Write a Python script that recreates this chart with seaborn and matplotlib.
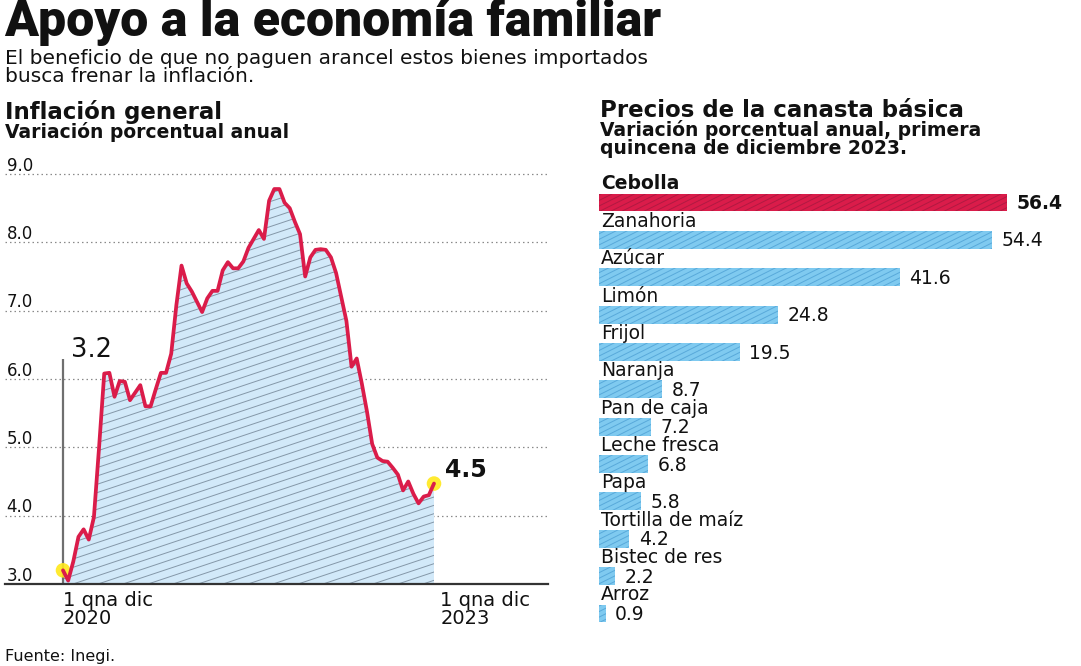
import numpy as np
import pandas as pd
import matplotlib
matplotlib.use("Agg")
import matplotlib.pyplot as plt
import matplotlib.hatch as mhatch
import matplotlib.transforms as mtransforms
from matplotlib.path import Path
import seaborn as sns

# ---------------- data ----------------
inflacion = [3.20, 3.05, 3.33, 3.69, 3.80, 3.65, 3.98, 5.00, 6.08, 6.09,
             5.74, 5.97, 5.96, 5.69, 5.80, 5.91, 5.60, 5.60, 5.85, 6.09,
             6.09, 6.37, 7.08, 7.66, 7.40, 7.28, 7.13, 6.98, 7.18, 7.29,
             7.29, 7.59, 7.71, 7.62, 7.62, 7.72, 7.92, 8.05, 8.18, 8.05,
             8.61, 8.78, 8.78, 8.58, 8.50, 8.30, 8.12, 7.50, 7.78, 7.89,
             7.90, 7.89, 7.78, 7.55, 7.20, 6.85, 6.18, 6.30, 5.93, 5.52,
             5.05, 4.85, 4.80, 4.79, 4.70, 4.60, 4.37, 4.50, 4.32, 4.18,
             4.28, 4.30, 4.47]
yticks = [3.0, 4.0, 5.0, 6.0, 7.0, 8.0, 9.0]
xlabel_ini = ["1 qna dic", "2020"]
xlabel_fin = ["1 qna dic", "2023"]

productos = ["Cebolla", "Zanahoria", "Azúcar", "Limón", "Frijol", "Naranja",
             "Pan de caja", "Leche fresca", "Papa", "Tortilla de maíz",
             "Bistec de res", "Arroz"]
variacion = [56.4, 54.4, 41.6, 24.8, 19.5, 8.7, 7.2, 6.8, 5.8, 4.2, 2.2, 0.9]

# ---------------- custom shallow hatches ----------------
class _Slant(mhatch.HatchPatternBase):
    char = "/"
    slope = 1.0 / 3.0
    per = 3

    def __init__(self, hatch, density):
        self.n = int(hatch.count(self.char) * self.per)
        if self.n:
            self.k = int(round(self.slope * self.n))
            self.num_lines = self.n + self.k + 1
        else:
            self.k = 0
            self.num_lines = 0
        self.num_vertices = self.num_lines * 2

    def set_vertices_and_codes(self, vertices, codes):
        cs = np.arange(-self.k, self.n + 1) / self.n
        vertices[0::2, 0] = 0.0
        vertices[0::2, 1] = cs
        vertices[1::2, 0] = 1.0
        vertices[1::2, 1] = cs + self.slope
        codes[0::2] = Path.MOVETO
        codes[1::2] = Path.LINETO


class _SlantBar(_Slant):
    char = "x"
    slope = 0.5
    per = 2


mhatch._hatch_types = [_Slant, _SlantBar]

# ---------------- style ----------------
sns.set_theme(style="white")
plt.rcParams["font.family"] = ["DejaVu Sans"]
plt.rcParams["hatch.linewidth"] = 0.7

RED = "#DA1C4A"
BLUE = "#7FCAF0"
FILL = "#D2E9F9"
INK = "#111111"

W, H = 1081, 666
fig = plt.figure(figsize=(W / 100, H / 100), dpi=100, facecolor="white")


def fx(px):
    return px / W


def fy(py):
    return 1 - py / H


# ---------------- texts ----------------
fig.text(fx(4), fy(36), "Apoyo a la economía familiar", family=["Roboto", "DejaVu Sans"],
         weight="black", fontsize=36, color=INK, va="baseline", ha="left")
fig.text(fx(5), fy(64), "El beneficio de que no paguen arancel estos bienes importados",
         fontsize=14.5, color=INK, va="baseline")
fig.text(fx(5), fy(81.5), "busca frenar la inflación.", fontsize=14.5, color=INK,
         va="baseline")

fig.text(fx(5), fy(119), "Inflación general", fontsize=16.5, weight="bold", color=INK,
         va="baseline")
fig.text(fx(5), fy(138), "Variación porcentual anual", fontsize=13.5, weight="bold",
         color=INK, va="baseline")

fig.text(fx(600), fy(117), "Precios de la canasta básica", fontsize=16.5, weight="bold",
         color=INK, va="baseline")
fig.text(fx(600), fy(136), "Variación porcentual anual, primera", fontsize=13.5,
         weight="bold", color=INK, va="baseline")
fig.text(fx(600), fy(154), "quincena de diciembre 2023.", fontsize=13.5, weight="bold",
         color=INK, va="baseline")

fig.text(fx(5), fy(661), "Fuente: Inegi.", fontsize=11.5, color=INK, va="baseline")

# ---------------- line chart ----------------
ax = fig.add_axes([fx(5), fy(584), fx(548) - fx(5), fy(160) - fy(584)])
x = np.arange(len(inflacion))
df_line = pd.DataFrame({"q": x, "v": inflacion})

ax.fill_between(df_line["q"], df_line["v"], 3.0, facecolor=FILL, edgecolor="#8497A8",
                linewidth=0, hatch="////", zorder=1)
sns.lineplot(data=df_line, x="q", y="v", ax=ax, color=RED, linewidth=2.7, zorder=4)
sns.scatterplot(x=[df_line["q"].iloc[0], df_line["q"].iloc[-1]],
                y=[df_line["v"].iloc[0], df_line["v"].iloc[-1]],
                ax=ax, s=110, color="#FFE81A", edgecolor="none", alpha=0.9, zorder=3)

x_per_px = 72 / (434 - 63)
ax.set_xlim(-(63 - 5) * x_per_px, 72 + (548 - 434) * x_per_px)
ax.set_ylim(3.0, 9.0 + 14 / 68.33)

ax.set_yticks(yticks)
ax.set_xticks([])
ax.tick_params(left=False, bottom=False, labelleft=False, labelbottom=False)
ax.yaxis.grid(True, color="#8a8a8a", linestyle=(0, (1.2, 2.4)), linewidth=0.9)
ax.xaxis.grid(False)
ax.set_xlabel("")
ax.set_ylabel("")
for s in ["top", "right", "left"]:
    ax.spines[s].set_visible(False)
ax.spines["bottom"].set_color("#333333")
ax.spines["bottom"].set_linewidth(1.6)
ax.spines["bottom"].set_zorder(5)

ytrans = mtransforms.blended_transform_factory(ax.transAxes, ax.transData)
for t in yticks:
    ax.text(0.003, t + 0.05, f"{t:.1f}", transform=ytrans, fontsize=12, color=INK,
            va="baseline", ha="left")

# vertical marker line at the start and labels
ax.vlines(0, 3.0, 6.29, color="#6f6f6f", linewidth=1.6, zorder=2)
ax.text(1.6, 6.32, f"{inflacion[0]:.1f}", fontsize=18.5, color=INK, va="baseline", ha="left")
ax.annotate(f"{inflacion[-1]:.1f}", xy=(x[-1], inflacion[-1]), xytext=(8, 1),
            textcoords="offset points", fontsize=17, weight="bold", color=INK,
            va="bottom", ha="left")

xtrans = mtransforms.blended_transform_factory(ax.transData, ax.transAxes)
for lab, xpos in [(xlabel_ini, 0), (xlabel_fin, 73.2)]:
    ax.text(xpos, (584 - 606) / 424, lab[0], transform=xtrans, fontsize=14, color=INK,
            va="baseline", ha="left", clip_on=False)
    ax.text(xpos, (584 - 624) / 424, lab[1], transform=xtrans, fontsize=14, color=INK,
            va="baseline", ha="left", clip_on=False)

# ---------------- bar chart ----------------
ax2 = fig.add_axes([fx(599), fy(630), fx(1075) - fx(599), fy(165) - fy(630)])
df_bar = pd.DataFrame({"producto": productos, "variacion": variacion})
pal = {p: (RED if i == 0 else BLUE) for i, p in enumerate(productos)}
sns.barplot(data=df_bar, x="variacion", y="producto", hue="producto", palette=pal,
            order=productos, hue_order=productos, legend=False, width=0.48,
            orient="h", ax=ax2, saturation=1)

for p in ax2.patches:
    idx = int(round(p.get_y() + p.get_height() / 2))
    p.set_linewidth(0)
    p.set_edgecolor("#B01A42" if idx == 0 else "#58A9DA")
    p.set_hatch("x" * 9)

px_per_unit = 7.23
ax2.set_xlim(0, (1075 - 599) / px_per_unit)
ax2.set_ylim(11 + (630 - 613.5) / 37.36, -(202.5 - 165) / 37.36)

for i, (name, val) in enumerate(zip(productos, variacion)):
    bold = "bold" if i == 0 else "normal"
    ax2.text(0.25, i - 0.24 - 0.11, name, fontsize=13.5, weight=bold, color=INK,
             va="baseline", ha="left")
    ax2.text(val + 1.3, i + 0.03, f"{val:.1f}", fontsize=13.5, weight=bold, color=INK,
             va="center", ha="left")

ax2.set_xticks([])
ax2.set_yticks([])
ax2.set_xlabel("")
ax2.set_ylabel("")
for s in ax2.spines.values():
    s.set_visible(False)
ax2.patch.set_alpha(0)

fig.savefig("out.png", dpi=100, facecolor="white")
